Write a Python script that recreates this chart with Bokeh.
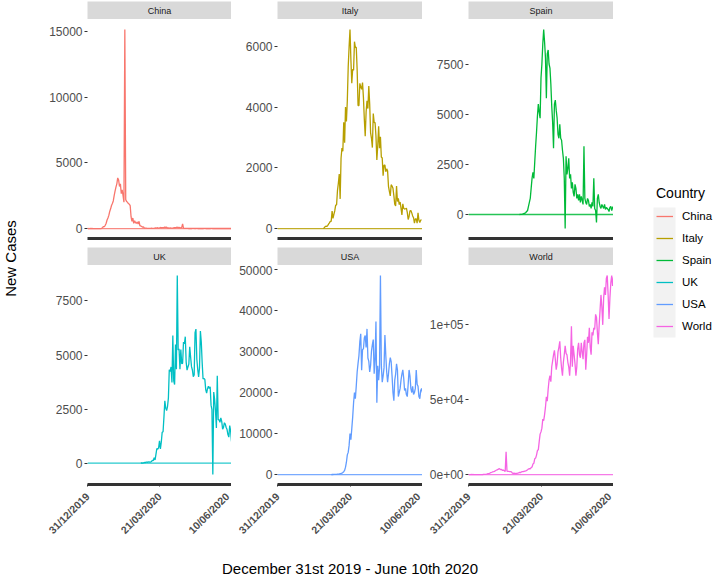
import math
import pandas as pd
from bokeh.plotting import figure
from bokeh.models import (Range1d, FixedTicker, DatetimeTickFormatter, Span,
                          Legend, LegendItem)
from bokeh.layouts import row, column
from bokeh.embed import file_html
from bokeh.resources import INLINE
from bokeh.core.properties import value

FONT = "Liberation Sans"

countries = ["China", "Italy", "Spain", "UK", "USA", "World"]
colors = ["#F8766D", "#B79F00", "#00BA38", "#00BFC4", "#619CFF", "#F564E3"]
start_dates = ["2019-12-31", "2020-02-20", "2020-02-26", "2020-02-29", "2020-02-29", "2019-12-31"]

china_cases = [
    27, 0, 0, 17, 0, 15, 0, 0, 0, 0,
    0, 0, 0, 1, 0, 0, 20, 80, 150, 150,
    250, 400, 650, 800, 1000, 1300, 1500, 1750, 1900, 2100,
    2500, 2850, 3150, 3400, 3850, 3700, 3200, 3400, 2650, 2950,
    2500, 2000, 15141, 2200, 2050, 2000, 1900, 1850, 1750, 900,
    550, 800, 400, 600, 450, 400, 500, 350, 550, 200,
    200, 150, 100, 130, 40, 30, 25, 20, 15, 20,
    10, 20, 30, 20, 15, 25, 40, 40, 50, 60,
    40, 50, 80, 60, 70, 70, 80, 100, 80, 100,
    40, 60, 40, 50, 30, 30, 40, 60, 60, 60,
    90, 100, 70, 90, 60, 50, 80, 350, 30, 20,
    10, 15, 10, 10, 5, 10, 5, 5, 10, 20,
    10, 5, 10, 15, 5, 10, 5, 3, 5, 2,
    3, 10, 15, 5, 10, 5, 10, 5, 5, 10,
    10, 5, 10, 5, 5, 5, 10, 5, 5, 3,
    5, 10, 5, 5, 5, 5, 10, 5, 5, 3,
    5, 5, 5,
]

italy_cases = [
    0, 17, 58, 78, 72, 94, 147, 185, 234, 239,
    573, 335, 466, 587, 769, 778, 1247, 1492, 1797, 977,
    2313, 2651, 2547, 3497, 2823, 4000, 3526, 4207, 5322, 5986,
    6557, 5560, 4789, 5249, 5210, 6153, 5959, 5974, 5217, 4050,
    4053, 4782, 4668, 4585, 4805, 4316, 3599, 3039, 3836, 4204,
    3951, 4694, 4092, 3153, 2972, 2667, 3786, 3493, 3491, 3047,
    2256, 2729, 3370, 2646, 3021, 2357, 2324, 1739, 2091, 2086,
    1872, 1965, 1900, 1389, 1221, 1075, 1444, 1401, 1327, 1083,
    802, 744, 1402, 888, 992, 789, 875, 675, 451, 813,
    665, 642, 652, 669, 531, 300, 397, 584, 593, 516,
    416, 355, 178, 318, 321, 177, 518, 270, 197, 280,
    283,
]

spain_cases = [
    0, 6, 10, 15, 30, 50, 60, 100, 150, 200,
    400, 600, 800, 1300, 1800, 2100, 1800, 2600, 3400, 4100,
    4900, 5500, 5100, 4800, 6800, 7500, 8500, 9222, 8600, 7800,
    5800, 8000, 8200, 7500, 7300, 6500, 5400, 4600, 3300, 5500,
    5700, 5200, 4800, 4000, 3800, 4500, 3800, 3700, 3200, 2800,
    1800, -700, 2900, 2000, 2300, 2800, 1800, 2000, 1300, 1600,
    1100, 900, 1500, 1300, 800, 1000, 700, 1000, 600, 900,
    700, 500, 3400, 800, 600, 500, 800, 700, 400, 500,
    300, 600, 400, 1800, 300, 200, -400, 800, 1000, 600,
    400, 300, 500, 400, 300, 500, 250, 350, 300, 250,
    150, 350, 400, 200, 350, 400,
]

uk_cases = [
    3, 12, 4, 11, 34, 29, 48, 48, 43, 67,
    48, 52, 83, 134, 117, 251, 152, 407, 676, 643,
    714, 1035, 665, 967, 1427, 1452, 2129, 2885, 2546, 2433,
    2619, 3009, 4324, 4244, 4450, 3735, 5903, 3802, 3634, 5491,
    4344, 8681, 5233, 5288, 4342, 5252, 4603, 4617, 5599, 5525,
    5850, 4676, 4301, 4451, 4583, 5386, 4913, 4463, 4309, 3996,
    4076, 6032, 6201, 4806, 4339, 3985, 4406, 6111, 5614, 4649,
    3896, 3923, 3877, 3403, 3242, 3446, 3560, 3450, 3534, 2684,
    2472, -525, 3287, 2959, 2409, 1625, 4043, 2004, 2013, 1887,
    2095, 1936, 1570, 1653, 1871, 1805, 1650, 1557, 1326, 1205,
    1741, 1500, 1003,
]

usa_cases = [
    5, 10, 15, 20, 25, 30, 60, 90, 110, 120,
    200, 270, 350, 500, 700, 1000, 1800, 3000, 4800, 5400,
    7100, 10000, 8500, 11200, 14000, 17500, 20000, 18500, 21600, 25000,
    27100, 29000, 32400, 34300, 25400, 30500, 30600, 33300, 33900, 31000,
    35500, 28400, 27600, 25000, 26600, 30100, 31700, 32900, 24600, 28000,
    37300, 17500, 26500, 23000, 26000, 48529, 26800, 22500, 24000, 26000,
    34000, 29000, 25000, 22500, 24500, 27000, 28500, 27500, 24000, 20000,
    18000, 23000, 24500, 27000, 25500, 19000, 20000, 21000, 23000, 24500,
    25500, 23500, 20500, 21000, 19500, 19000, 22000, 25500, 24000, 21000,
    20000, 21500, 19500, 20000, 21000, 25500, 22000, 21500, 19000, 18500,
    20500, 21000, 20000,
]

world_cases = [
    27, 0, 0, 17, 0, 15, 0, 0, 0, 0,
    0, 0, 0, 1, 0, 0, 20, 80, 150, 150,
    260, 410, 660, 810, 1020, 1320, 1530, 1780, 1940, 2130,
    2540, 2880, 3180, 3430, 3880, 3730, 3240, 3450, 2690, 2990,
    2540, 2060, 15200, 2300, 2150, 2100, 2000, 1950, 1850, 1000,
    650, 950, 550, 800, 700, 900, 1100, 1400, 1300, 1700,
    2000, 1900, 2100, 2300, 2500, 2800, 3200, 3700, 4000, 3800,
    4600, 5000, 7000, 7500, 10500, 11000, 13000, 16000, 16500, 22000,
    27000, 28500, 31000, 37000, 36000, 40000, 45000, 52000, 49000, 57000,
    63000, 66000, 62000, 72000, 76000, 80000, 83000, 77000, 70000, 74000,
    82000, 85000, 89000, 78000, 71000, 66000, 75000, 80000, 86000, 81000,
    80000, 75000, 72000, 66000, 76000, 99000, 72000, 86000, 80000, 74000,
    66000, 72000, 84000, 88000, 80000, 78000, 88000, 82000, 77000, 88000,
    90000, 70000, 80000, 92000, 88000, 98000, 85000, 80000, 95000, 93000,
    98000, 97000, 107000, 105000, 95000, 87000, 100000, 110000, 120000, 112000,
    100000, 118000, 125000, 120000, 131000, 133000, 120000, 104000, 118000, 128000,
    133000, 126000, 132000,
]

series = [china_cases, italy_cases, spain_cases, uk_cases, usa_cases, world_cases]

x_start = "2019-12-31"
x_end = "2020-06-10"
x_tick_dates = ["2019-12-31", "2020-03-21", "2020-06-10"]

y_ticks = [
    [0, 5000, 10000, 15000],
    [0, 2000, 4000, 6000],
    [0, 2500, 5000, 7500],
    [0, 2500, 5000, 7500],
    [0, 10000, 20000, 30000, 40000, 50000],
    [0, 50000, 100000],
]
world_tick_labels = {0: "0e+00", 50000: "5e+04", 100000: "1e+05"}

x_title = "December 31st 2019 - June 10th 2020"
y_title = "New Cases"
legend_title = "Country"

FH = 219
STRIP_H = 18


def to_ms(d):
    return pd.Timestamp(d).value // 10**6


def make_cell(i):
    name = countries[i]
    color = colors[i]
    vals = series[i]
    col = i % 3
    bottom = i >= 3
    left_border = 63 if col == 0 else 46
    fw = 144 if col == 0 else 145

    strip = figure(frame_width=fw, frame_height=STRIP_H, x_range=Range1d(0, 1), y_range=Range1d(0, 1),
                   min_border_left=left_border, min_border_right=0,
                   min_border_top=(0 if bottom else 1), min_border_bottom=0,
                   toolbar_location=None, output_backend="svg", x_axis_location=None, y_axis_location=None,
                   background_fill_color="#D9D9D9", outline_line_color=None)
    strip.grid.visible = False
    strip.text(x=[0.5], y=[0.5], text=[name], text_align="center", text_baseline="middle",
               text_font=value(FONT), text_font_size="9px", text_color="#1A1A1A")

    dates = pd.date_range(start_dates[i], periods=len(vals), freq="D")
    lo = min(0, min(vals))
    hi = max(vals)
    pad = 0.05 * (hi - lo)
    p = figure(x_axis_type="datetime", frame_width=fw, frame_height=FH,
               x_range=Range1d(pd.Timestamp(x_start), pd.Timestamp(x_end)),
               y_range=Range1d(lo - pad, hi + pad),
               min_border_left=left_border, min_border_right=0, min_border_top=0,
               min_border_bottom=(0 if bottom else 9),
               toolbar_location=None, output_backend="svg", outline_line_color=None)
    p.grid.visible = False
    p.add_layout(Span(location=0, dimension="width", line_color=color, line_width=1.3, line_alpha=0.85))
    p.line(dates, vals, line_color=color, line_width=1.3)

    yax = p.yaxis[0]
    yax.ticker = FixedTicker(ticks=y_ticks[i])
    if name == "World":
        yax.major_label_overrides = world_tick_labels
    yax.axis_line_color = None
    yax.major_tick_out = 3
    yax.major_tick_in = 0
    yax.major_tick_line_color = "#333333"
    yax.minor_tick_line_color = None
    yax.major_label_text_font = FONT
    yax.major_label_text_font_size = "12px"
    yax.major_label_text_color = "#4D4D4D"
    yax.major_label_standoff = 2

    xax = p.xaxis[0]
    xax.axis_line_width = 3
    xax.axis_line_color = "#333333"
    xax.minor_tick_line_color = None
    if bottom:
        xax.ticker = FixedTicker(ticks=[to_ms(d) for d in x_tick_dates])
        fmt = "%d/%m/%Y"
        xax.formatter = DatetimeTickFormatter(days=fmt, months=fmt, years=fmt, hours=fmt,
                                              hourmin=fmt, minutes=fmt, minsec=fmt,
                                              seconds=fmt, milliseconds=fmt, microseconds=fmt)
        xax.major_label_orientation = math.pi / 4
        xax.major_label_text_font = FONT
        xax.major_label_text_font_style = "bold"
        xax.major_label_text_font_size = "10.5px"
        xax.major_label_text_color = "#4D4D4D"
        xax.major_tick_out = 2
        xax.major_tick_in = 0
        xax.major_tick_line_color = "#333333"
        xax.major_label_standoff = 8
    else:
        xax.ticker = FixedTicker(ticks=[])
        xax.major_tick_line_color = None
        xax.major_tick_out = 0
        xax.major_label_standoff = 0
    return column(strip, p)


cells = [make_cell(i) for i in range(6)]
grid = column(row(cells[0], cells[1], cells[2]), row(cells[3], cells[4], cells[5]))

# x axis title (spans the panel area, centred on the middle panel)
XT_W, XT_H = 589, 34
xt = figure(frame_width=XT_W, frame_height=XT_H, x_range=Range1d(24, 24 + XT_W), y_range=Range1d(XT_H, 0),
            min_border_left=0, min_border_right=0, min_border_top=0, min_border_bottom=0,
            toolbar_location=None, output_backend="svg", x_axis_location=None, y_axis_location=None,
            outline_line_color=None)
xt.grid.visible = False
xt.text(x=[349.5], y=[25], text=[x_title], text_align="center", text_baseline="middle",
        text_font=value(FONT), text_font_size="15px", text_color="#000000")

# y axis title
YL_H = 520
ylab = figure(frame_width=24, frame_height=YL_H, x_range=Range1d(0, 24), y_range=Range1d(YL_H, 0),
              min_border_left=0, min_border_right=0, min_border_top=0, min_border_bottom=0,
              toolbar_location=None, output_backend="svg", x_axis_location=None, y_axis_location=None,
              outline_line_color=None)
ylab.grid.visible = False
ylab.text(x=[10], y=[258], text=[y_title], angle=math.pi / 2, text_align="center", text_baseline="middle",
          text_font=value(FONT), text_font_size="15px", text_color="#000000")

# legend
LG_W, LG_H = 100, 340
lg = figure(frame_width=LG_W, frame_height=LG_H, x_range=Range1d(0, LG_W), y_range=Range1d(LG_H, 0),
            min_border_left=0, min_border_right=0, min_border_top=0, min_border_bottom=0,
            toolbar_location=None, output_backend="svg", x_axis_location=None, y_axis_location=None,
            outline_line_color=None)
lg.grid.visible = False
lg.quad(left=[40], right=[62], top=[207], bottom=[337], fill_color="#F2F2F2", line_color=None)
items = []
for name, color in zip(countries, colors):
    r = lg.line(x=[float("nan")], y=[float("nan")], line_color=color, line_width=1.3)
    items.append(LegendItem(label=name, renderers=[r]))
legend = Legend(items=items, location=(43, 3), title=legend_title,
                title_text_font=FONT, title_text_font_size="14px", title_text_font_style="normal",
                title_text_color="#000000", title_standoff=4,
                label_text_font=FONT, label_text_font_size="11.5px", label_text_color="#000000",
                glyph_width=17, glyph_height=22, label_height=22, spacing=0, padding=0, margin=0,
                label_standoff=9, border_line_color=None, background_fill_alpha=0)
lg.add_layout(legend)

layout = row(ylab, column(grid, xt), lg)

with open("out.html", "w") as f:
    f.write(file_html(layout, INLINE))
